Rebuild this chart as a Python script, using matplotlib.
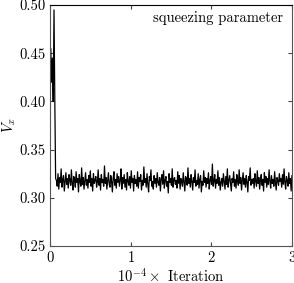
import numpy as np
import matplotlib
matplotlib.use('Agg')
from matplotlib import pyplot as plt

# start-up transient (x in units of 1e4 iterations)
x_start = [0.0, 0.01, 0.02, 0.03, 0.04, 0.05, 0.06, 0.07]
v_start = [0.40, 0.455, 0.42, 0.445, 0.40, 0.495, 0.40, 0.32]

v_steady_milli = [
    318, 312, 325, 309, 321, 316, 330, 311, 319, 323, 307, 317, 326, 314, 320, 310, 324, 318, 313, 329, 315, 308, 322, 319, 311,
    327, 316, 320, 306, 324, 317, 312, 331, 314, 321, 309, 318, 326, 313, 319, 310, 323, 316, 328, 312, 320, 307, 325, 315, 318,
    322, 311, 317, 329, 313, 320, 308, 324, 316, 319, 312, 333, 315, 321, 309, 318, 326, 314, 311, 323, 317, 306, 320, 327, 313,
    319, 310, 325, 316, 322, 312, 318, 330, 309, 321, 315, 324, 311, 319, 308, 326, 317, 313, 322, 310, 328, 316, 320, 307, 323,
    315, 319, 312, 327, 310, 321, 317, 324, 308, 318, 313, 332, 316, 320, 311, 325, 314, 306, 322, 318, 329, 312, 317, 309, 323,
    315, 320, 311, 326, 316, 313, 321, 307, 319, 324, 314, 328, 310, 318, 322, 312, 317, 305, 325, 316, 320, 313, 330, 311, 319,
    321, 314, 318, 310, 327, 315, 323, 309, 320, 317, 312, 326, 316, 307, 322, 319, 313, 331, 315, 320, 311, 324, 317, 308, 321,
    316, 329, 312, 318, 314, 325, 310, 319, 323, 306, 317, 313, 328, 316, 321, 311, 320, 315, 326, 309, 318, 322, 314, 335, 312,
    317, 324, 310, 319, 315, 328, 313, 321, 308, 316, 320, 312, 325, 317, 309, 322, 314, 330, 311, 318, 323, 315, 307, 320, 316,
    327, 312, 319, 310, 324, 317, 313, 329, 315, 321, 308, 318, 326, 314, 320, 311, 323, 316, 306, 322, 318, 331, 313, 319, 315,
    320, 310, 325, 317, 312, 328, 315, 321, 309, 318, 324, 313, 319, 307, 326, 316, 322, 311, 320, 314, 329, 317, 310, 323, 315,
    319, 312, 327, 316, 308, 321, 318, 313, 325, 317, 320, 311, 324, 314, 330, 316, 309, 322, 318, 312, 326, 315, 320, 307, 323,
]

y_ticks = [0.25, 0.30, 0.35, 0.40, 0.45, 0.50]
x_ticks = [0, 1, 2, 3]

plt.rcParams['font.family'] = 'serif'
plt.rcParams['font.serif'] = ['cmr10']
plt.rcParams['mathtext.fontset'] = 'cm'
plt.rcParams['axes.unicode_minus'] = False
plt.rcParams['axes.formatter.use_mathtext'] = True

v_steady = np.array(v_steady_milli) / 1000.0
x_steady = np.linspace(0.08, 3.0, len(v_steady))
x = np.concatenate([x_start, x_steady])
v = np.concatenate([v_start, v_steady])

fig = plt.figure(figsize=(2.94, 2.83), dpi=100)
ax = fig.add_axes([0.170, 0.131, 0.823, 0.851])
ax.plot(x, v, color='k', linewidth=0.9)

ax.set_xlim(0, 3)
ax.set_ylim(0.25, 0.50)
ax.set_xticks(x_ticks)
ax.set_yticks(y_ticks)
ax.set_yticklabels(['%.2f' % t for t in y_ticks])
ax.tick_params(direction='in', top=True, right=True, length=3,
               labelsize=10.5, colors='#444444', labelcolor='k', pad=3)
for s in ax.spines.values():
    s.set_color('#555555')
ax.spines['top'].set_color('k')

ax.set_xlabel(r'$10^{-4}\times$ Iteration', fontsize=10.5, labelpad=1)
ax.set_ylabel(r'$V_x$', fontsize=10.5, labelpad=1)
ax.text(0.965, 0.945, 'squeezing parameter', transform=ax.transAxes,
        ha='right', va='center', fontsize=10.5)

fig.savefig('out.png', dpi=100)
